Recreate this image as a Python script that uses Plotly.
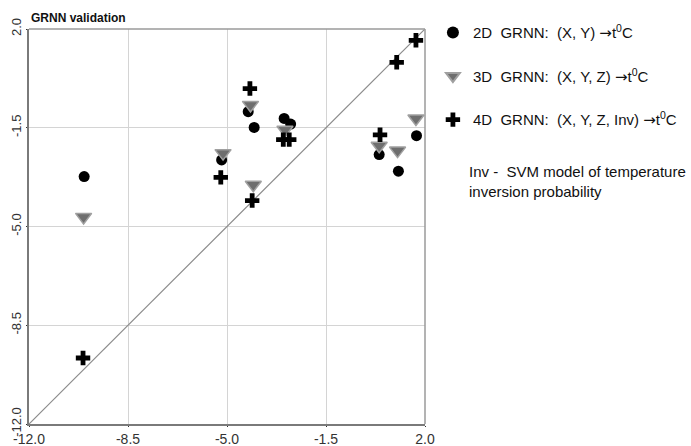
import plotly.graph_objects as go

# 2D GRNN: (X, Y) -> t
x2d = [-10.05, -5.19, -4.25, -4.04, -2.98, -2.75, 0.38, 1.06, 1.70]
y2d = [-3.23, -2.64, -0.93, -1.49, -1.17, -1.37, -2.45, -3.04, -1.78]

# 3D GRNN: (X, Y, Z) -> t
x3d = [-10.07, -5.14, -4.17, -4.07, -2.95, 0.38, 1.03, 1.68]
y3d = [-4.66, -2.40, -0.69, -3.52, -1.57, -2.14, -2.31, -1.17]

# 4D GRNN: (X, Y, Z, Inv) -> t
x4d = [-10.09, -5.22, -4.19, -4.11, -3.01, -2.80, 0.41, 1.00, 1.68]
y4d = [-9.66, -3.26, -0.11, -4.08, -1.92, -1.92, -1.75, 0.82, 1.60]

ticks = [-12.0, -8.5, -5.0, -1.5, 2.0]
tick_labels = ["-12.0", "-8.5", "-5.0", "-1.5", "2.0"]
diag = [-12.0, 2.0]

font_main = "Liberation Sans, Arial, sans-serif"
ARROW = "<span style='font-family:DejaVu Sans'>\u2192</span>"
NB = "\u00a0"

fig = go.Figure()

fig.add_trace(go.Scatter(x=diag, y=diag, mode="lines",
                         line=dict(color="#8c8c8c", width=1.2),
                         showlegend=False, hoverinfo="skip"))

fig.add_trace(go.Scatter(
    x=x2d, y=y2d, mode="markers",
    name=f"2D{NB}{NB}GRNN:{NB}{NB}(X, Y){NB}{ARROW}t<sup>0</sup>C",
    legendgroup="a",
    marker=dict(symbol="circle", size=11, color="#000000")))

fig.add_trace(go.Scatter(
    x=x3d, y=y3d, mode="markers",
    name=f"3D{NB}{NB}GRNN:{NB}{NB}(X, Y, Z){NB}{ARROW}t<sup>0</sup>C",
    legendgroup="b",
    marker=dict(symbol="triangle-down", size=14, color="#6e6e6e",
                line=dict(color="#a0a0a0", width=1.5))))

fig.add_trace(go.Scatter(
    x=x4d, y=y4d, mode="markers",
    name=f"4D{NB}{NB}GRNN:{NB}{NB}(X, Y, Z, Inv){NB}{ARROW}t<sup>0</sup>C",
    legendgroup="c",
    marker=dict(symbol="cross", size=12, color="#000000")))

axis_common = dict(
    range=[-12, 2], tickmode="array", tickvals=ticks, ticktext=tick_labels,
    showgrid=True, gridcolor="#d4d4d4", gridwidth=1, automargin=False,
    zeroline=False, showline=True, linecolor="#7a7a7a", linewidth=2,
    mirror=False, ticks="outside", ticklen=1, tickcolor="#333333",
)

fig.update_xaxes(**axis_common, tickfont=dict(family=font_main, size=14, color="#333333"))
fig.update_yaxes(**axis_common, tickangle=-90,
                 tickfont=dict(family=font_main, size=13, color="#333333"))

fig.update_layout(
    width=691, height=446,
    margin=dict(l=29, r=266, t=29, b=22, autoexpand=False),
    paper_bgcolor="white", plot_bgcolor="white",
    font=dict(family=font_main, size=15, color="#111111"),
    legend=dict(x=1.02, y=1.032, xanchor="left", yanchor="top",
                traceorder="grouped", tracegroupgap=21,
                font=dict(family=font_main, size=15, color="#111111"),
                bgcolor="rgba(0,0,0,0)", itemsizing="constant"),
    shapes=[
        dict(type="line", xref="paper", yref="paper", x0=0, x1=1, y0=1, y1=1,
             line=dict(color="#9a9a9a", width=1.5)),
        dict(type="line", xref="paper", yref="paper", x0=1, x1=1, y0=0, y1=1,
             line=dict(color="#9a9a9a", width=1.5)),
    ],
    annotations=[
        dict(text="<b>GRNN validation</b>", xref="paper", yref="paper",
             x=0.0, y=1.0, xanchor="left", yanchor="bottom", showarrow=False,
             xshift=0, yshift=2,
             font=dict(family=font_main, size=12, color="#111111")),
        dict(text="Inv -  SVM model of temperature<br>inversion probability",
             xref="paper", yref="paper", x=1.105, y=0.665, xanchor="left",
             yanchor="top", showarrow=False, align="left",
             font=dict(family=font_main, size=15, color="#111111")),
    ],
)

fig.write_html("out.html", config={"displayModeBar": False},
               post_script="document.body.style.margin='0';document.body.style.overflow='hidden';")
